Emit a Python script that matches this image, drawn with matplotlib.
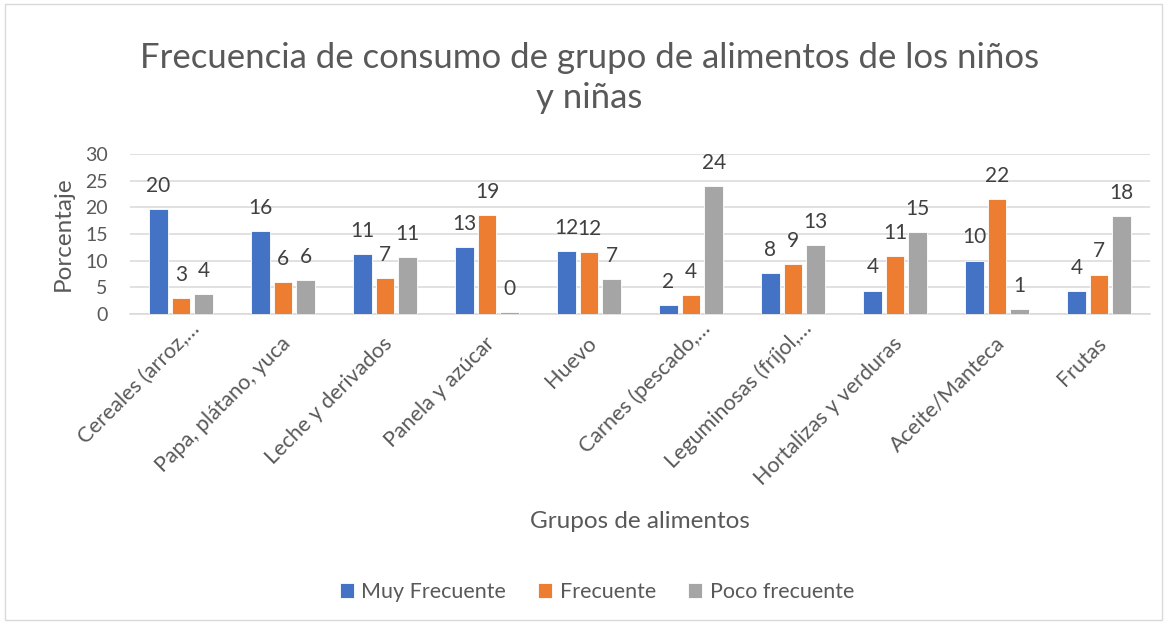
import matplotlib.pyplot as plt
import matplotlib.patches as patches
import matplotlib.transforms as mtransforms
import numpy as np

plt.rcParams['font.family'] = ['Lato', 'DejaVu Sans']

# data
categorias = ["Cereales (arroz,…", "Papa, plátano, yuca", "Leche y derivados",
              "Panela y azúcar", "Huevo", "Carnes (pescado,…",
              "Leguminosas (fríjol,…", "Hortalizas y verduras",
              "Aceite/Manteca", "Frutas"]
muy_frecuente = [19.6, 15.6, 11.3, 12.6, 11.8, 1.6, 7.6, 4.4, 10.0, 4.3]
frecuente = [3.0, 6.0, 6.7, 18.6, 11.6, 3.6, 9.4, 10.9, 21.6, 7.4]
poco_frecuente = [3.8, 6.3, 10.6, 0.3, 6.6, 24.0, 12.9, 15.4, 0.9, 18.3]
series = ["Muy Frecuente", "Frecuente", "Poco frecuente"]
colores = ["#4472C4", "#ED7D31", "#A5A5A5"]

texto = "#595959"

fig = plt.figure(figsize=(11.67, 6.24), dpi=100)
ax = fig.add_axes([130 / 1167, 1 - 314 / 624, 1020 / 1167, 160 / 624])

# outer chart frame
fig.patches.append(patches.Rectangle((0.004, 0.006), 0.992, 0.988, transform=fig.transFigure,
                                     fill=False, edgecolor="#D9D9D9", linewidth=1))

x = np.arange(len(categorias))
ancho = 0.18
paso = 0.222
for i, (vals, nombre, c) in enumerate(zip([muy_frecuente, frecuente, poco_frecuente], series, colores)):
    barras = ax.bar(x + (i - 1) * paso, vals, ancho, color=c, edgecolor="white",
                    linewidth=0.6, label=nombre, zorder=3)
    ax.bar_label(barras, fmt="%.0f", padding=9.5, fontsize=15, color="#404040")

ax.set_xlim(-0.5, len(categorias) - 0.5)
ax.set_ylim(0, 30)
ax.set_yticks([0, 5, 10, 15, 20, 25, 30])
ax.yaxis.grid(True, color="#D9D9D9", linewidth=1.1, zorder=0)
ax.set_axisbelow(True)
for s in ["top", "right", "left"]:
    ax.spines[s].set_visible(False)
ax.spines["bottom"].set_color("#D9D9D9")
ax.spines["bottom"].set_linewidth(1.1)
ax.tick_params(axis="both", length=0, labelcolor=texto)
ax.tick_params(axis="y", pad=16, labelsize=14)
ax.set_xticks(x)
ax.set_xticklabels(categorias, rotation=45, ha="right", va="top", rotation_mode="anchor",
                   fontsize=15.5)
ax.tick_params(axis="x", pad=14)
for lab in ax.get_xticklabels():
    if lab.get_text().endswith("…"):
        dx, dy = 6, 11
    else:
        dx, dy = -2, 0
    lab.set_transform(lab.get_transform() +
                      mtransforms.ScaledTranslation(dx / 72, dy / 72, fig.dpi_scale_trans))

ax.set_ylabel("Porcentaje", fontsize=17.5, color=texto, labelpad=8)
fig.text(640 / 1167, 1 - 522 / 624, "Grupos de alimentos", ha="center", va="center",
         fontsize=17.5, color=texto)

fig.text(0.505, 0.875, "Frecuencia de consumo de grupo de alimentos de los niños\ny niñas",
         ha="center", va="center", fontsize=25, color=texto, linespacing=1.3)

fig.legend(loc="center", bbox_to_anchor=(597 / 1167, 1 - 592 / 624), ncol=3, frameon=False,
           fontsize=15.5, handlelength=0.65, handleheight=0.65, columnspacing=1.5,
           handletextpad=0.35, labelcolor=texto)

fig.savefig("out.png", dpi=100)
